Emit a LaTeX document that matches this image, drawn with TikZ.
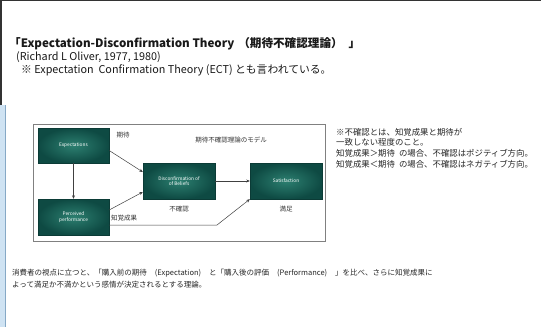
\documentclass[tikz,border=0pt]{standalone}
\usepackage{fontspec}
\setmainfont{Noto Sans CJK JP}
\usetikzlibrary{arrows.meta}
\definecolor{tealdark}{HTML}{0E4A43}
\definecolor{teallight}{HTML}{2C7F70}
\definecolor{stripblue}{HTML}{CFE3F3}
\definecolor{stripline}{HTML}{86A9C6}
\tikzset{
  box/.style={draw=tealdark!80!black, line width=0.4pt, inner color=teallight, outer color=tealdark,
    minimum width=71pt, minimum height=35pt, text=white, font=\fontsize{4.8}{5.8}\selectfont, align=center, inner sep=1pt},
  conn/.style={draw=black!75, line width=0.5pt, -{Stealth[length=3.5pt,width=3pt]}},
  lbl/.style={font=\fontsize{6.5}{7.5}\selectfont, text=black!80, inner sep=0pt},
  note/.style={font=\fontsize{8.4}{10}\selectfont, text=black!85, inner sep=0pt, anchor=west},
  small/.style={font=\fontsize{7.5}{9}\selectfont, text=black!85, inner sep=0pt, anchor=west},
  head/.style={anchor=west, inner sep=0pt, text=black!90}
}
\begin{document}
\begin{tikzpicture}[x=1pt,y=-1pt]
\useasboundingbox (0,0) rectangle (541,327);
\fill[white] (0,0) rectangle (541,327);
% edges
\fill[black!80] (0,0) rectangle (541,1.2);
\fill[black!80] (0,0) rectangle (2,105);
\fill[stripblue] (0,105) rectangle (5,327);
\draw[stripline, line width=0.6pt] (5,105) -- (5,327);
% header text
\node[head, font=\fontsize{11.6}{13}\selectfont\bfseries] (title) at (9,44) {「Expectation-Disconfirmation Theory\hspace{4pt}（期待不確認理論）\hspace{6pt}」};
\node[head, font=\fontsize{10.8}{12}\selectfont] (author) at (16,57) {(Richard L Oliver, 1977, 1980)};
\node[head, font=\fontsize{10.8}{12}\selectfont] (ect) at (21,70) {※ Expectation\ \ Confirmation Theory (ECT) とも言われている。};
% diagram frame
\node[draw=black!50, line width=0.6pt, minimum width=292pt, minimum height=117pt, inner sep=0pt] (frame) at (179,182.5) {};
% boxes
\node[box] (exp) at (73.5,145.5) {Expectations};
\node[box, minimum height=36pt] (perc) at (73.5,217) {Perceived\\performance};
\node[box, minimum width=72pt, minimum height=36pt] (disc) at (179,181) {Disconfirmation of\\of Beliefs};
\node[box, minimum width=72pt, minimum height=36pt] (sat) at (286,181) {Satisfaction};
% labels
\node[lbl] (lexp) at (123,135) {期待};
\node[lbl] (lmodel) at (231,140) {期待不確認理論のモデル};
\node[lbl, anchor=west] (lperc) at (111,218) {知覚成果};
\node[lbl] (ldisc) at (179,209) {不確認};
\node[lbl] (lsat) at (286,209) {満足};
% connectors
\coordinate (bend) at (217,225);
\draw[conn] (exp.south) -- (perc.north);
\draw[conn] ([yshift=-5pt]exp.east) -- ([yshift=9pt]disc.west);
\draw[conn] ([yshift=7pt]perc.east) -- ([yshift=-11pt]disc.west);
\draw[conn] (disc.east) -- (sat.west);
\draw[conn] ([yshift=-8pt]perc.east) -- (bend) -- (sat.south west);
% right notes
\node[note] (n1) at (336,132) {※不確認とは、知覚成果と期待が};
\node[note] (n2) at (336,142) {一致しない程度のこと。};
\node[note] (n3) at (336,153) {知覚成果＞期待\hspace{4pt}の場合、不確認はポジティブ方向。};
\node[note] (n4) at (336,164) {知覚成果＜期待\hspace{4pt}の場合、不確認はネガティブ方向。};
% bottom text
\node[small] (b1) at (12,273) {消費者の視点に立つと、「購入前の期待\hspace{8pt}(Expectation)\hspace{8pt}と「購入後の評価\hspace{8pt}(Performance)\hspace{8pt}」を比べ、さらに知覚成果に};
\node[small] (b2) at (12,285) {よって満足か不満かという感情が決定されるとする理論。};
\end{tikzpicture}
\end{document}
